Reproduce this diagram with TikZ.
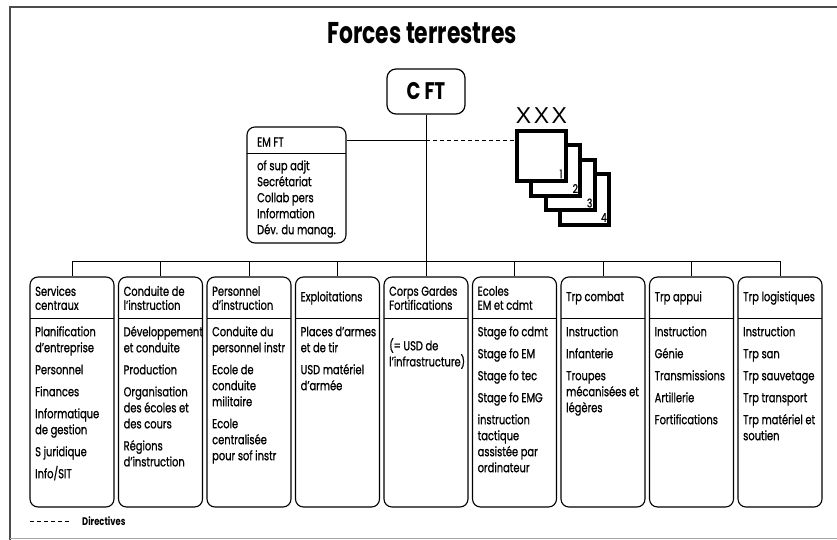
\documentclass[tikz,border=0pt]{standalone}
\usepackage{fontspec}
\setmainfont{Poppins}[FakeStretch=0.76, UprightFeatures={FakeBold=0.9}]
\newfontfamily\xxxfont{Liberation Sans}
\newcommand\gap{\\[6pt]}
\newcommand\colbox[5]{%
  \node[box] (#1) at (#2,392) {};
  \draw[divline] (#2-42,318) -- (#2+42,318);
  \node[hd] (#1h) at (#2-37,298) {#3};
  \node[bd] (#1b) at (#2-37,#5) {\rule{0pt}{10pt}#4};
  \draw[conn] (#1.north) -- (#1.north |- busL);
}
\begin{document}
\begin{tikzpicture}[x=1pt,y=-1pt,
  box/.style={draw, line width=1.1pt, rounded corners=8pt, minimum width=84pt, minimum height=230pt, inner sep=0pt},
  divline/.style={line width=0.9pt},
  conn/.style={line width=0.8pt},
  dirline/.style={line width=0.8pt, dash pattern=on 4pt off 3pt},
  hd/.style={anchor=west, align=left, inner sep=0pt, font=\fontsize{13}{14}\selectfont},
  bd/.style={anchor=north west, align=left, inner sep=0pt, font=\fontsize{13}{16}\selectfont},
  sq/.style={draw, line width=4pt, fill=white, minimum width=49pt, minimum height=50pt, inner sep=0pt},
  num/.style={font=\fontsize{12}{12}\selectfont, inner sep=0pt}]
\useasboundingbox (0,0) rectangle (837,540);
% frame
\draw[black!70, line width=1.8pt] (10,540) -- (10,7) -- (837,7);
\draw[black!35, line width=0.8pt] (10,538) -- (837,538);
% title
\node[font=\bfseries\fontsize{30}{30}\selectfont, xscale=0.96] (title) at (422,33) {Forces terrestres};
% top
\node[draw, line width=1.2pt, rounded corners=9pt, minimum width=78pt, minimum height=45pt,
      font=\bfseries\fontsize{24}{24}\selectfont] (cft) at (426,91.5) {C FT};
\node[draw, line width=1.1pt, rounded corners=8pt, minimum width=99pt, minimum height=116pt, inner sep=0pt] (emft) at (296.5,185) {};
\draw[divline] (247,153) -- (346,153);
\node[hd] (emfth) at (257,142) {EM FT};
\node[bd] (emftb) at (257,160) {\rule{0pt}{10pt}of sup adjt\\Secrétariat\\Collab pers\\Information\\Dév. du manag.};
% squares
\node[sq] (sq4) at (541.5+42.9,156+43.5) {};
\node[sq] (sq3) at (541.5+28.6,156+29) {};
\node[sq] (sq2) at (541.5+14.3,156+14.5) {};
\node[sq] (sq1) at (541.5,156) {};
\node[num] (n1) at ([shift={(-7,-9)}]sq1.south east) {1};
\node[num] (n2) at ([shift={(-7,-9)}]sq2.south east) {2};
\node[num] (n3) at ([shift={(-7,-9)}]sq3.south east) {3};
\node[num] (n4) at ([shift={(-7,-9)}]sq4.south east) {4};
\node[font=\xxxfont\fontsize{23}{23}\selectfont, inner sep=0pt] (xxx) at (541.5,115.5) {X\kern2.5pt X\kern2.5pt X};
% bus coordinate
\coordinate (busL) at (0,261);
\coordinate (j) at (426,140);
% columns
\colbox{b1}{72}{Services\\centraux}{Planification\\d'entreprise\gap Personnel\gap Finances\gap Informatique\\de gestion\gap S juridique\gap Info/SIT}{326}
\colbox{b2}{160.5}{Conduite de\\l'instruction}{Développement\\et conduite\gap Production\gap Organisation\\des écoles et\\des cours\gap Régions\\d'instruction}{326}
\colbox{b3}{249}{Personnel\\d'instruction}{Conduite du\\personnel instr\gap Ecole de\\conduite\\militaire\gap Ecole\\centralisée\\pour sof instr}{326}
\colbox{b4}{337.5}{Exploitations}{Places d'armes\\et de tir\gap USD matériel\\d'armée}{326}
\colbox{b5}{426}{Corps Gardes\\Fortifications}{(= USD de\\l'infrastructure)}{338}
\colbox{b6}{514.5}{Ecoles\\EM et cdmt}{Stage fo cdmt\gap Stage fo EM\gap Stage fo tec\gap Stage fo EMG\gap instruction\\tactique\\assistée par\\ordinateur}{326}
\colbox{b7}{603}{Trp combat}{Instruction\gap Infanterie\gap Troupes\\mécanisées et\\légères}{326}
\colbox{b8}{691.5}{Trp appui}{Instruction\gap Génie\gap Transmissions\gap Artillerie\gap Fortifications}{326}
\colbox{b9}{780}{Trp logistiques}{Instruction\gap Trp san\gap Trp sauvetage\gap Trp transport\gap Trp matériel et\\soutien}{326}
% connectors
\draw[conn] (b1.north |- busL) -- (b9.north |- busL);
\draw[conn] (cft.south) -- (b5.north);
\draw[conn] (j) -- (j -| emft.east);
\draw[dirline] (j) -- (j -| sq1.west);
% legend
\coordinate (l1) at (30,521);
\coordinate (l2) at (70,521);
\draw[dirline] (l1) -- (l2);
\node[anchor=west, inner sep=0pt, font=\bfseries\fontsize{11}{11}\selectfont] (leg) at (82,521) {Directives};
\end{tikzpicture}
\end{document}
